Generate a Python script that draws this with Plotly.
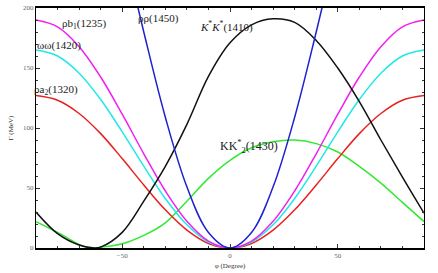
import plotly.graph_objects as go

phi = [-90, -80, -70, -60, -50, -40, -30, -20, -10, 0, 10, 20, 30, 40, 50, 60, 70, 80, 90]

gamma_rho_b1 = [190, 184.3, 167.8, 142.5, 111.5, 78.5, 47.5, 22.2, 5.7, 0, 5.7, 22.2, 47.5, 78.5, 111.5, 142.5, 167.8, 184.3, 190]
gamma_omega_omega = [165, 160, 145.7, 123.8, 96.8, 68.2, 41.3, 19.3, 5, 0, 5, 19.3, 41.3, 68.2, 96.8, 123.8, 145.7, 160, 165]
gamma_rho_a2 = [127, 123.1, 112.1, 95.3, 74.5, 52.5, 31.8, 14.9, 3.8, 0, 3.8, 14.9, 31.8, 52.5, 74.5, 95.3, 112.1, 123.1, 127]
gamma_rho_rho = [435, 422, 384, 326, 255, 180, 109, 51, 13, 0, 13, 51, 109, 180, 255, 326, 384, 422, 435]

phi_kstar = [-90, -80, -70, -63, -60, -50, -40, -30, -20, -10, 0, 10, 20, 30, 40, 50, 60, 70, 80, 90]
gamma_kstar = [30, 12, 2.5, 0, 0.7, 13, 39, 68, 103, 143, 171, 186, 191, 188, 173, 150, 122, 90, 59, 29]

phi_kk2 = [-90, -80, -70, -65, -60, -50, -40, -30, -20, -10, 0, 10, 20, 30, 40, 50, 60, 70, 80, 90]
gamma_kk2 = [22, 13, 3, 0, 0.6, 3.5, 10.5, 21, 39, 58, 73, 83.5, 88.5, 90, 87, 80, 68, 54, 38, 22]

x_tickvals = [-50, 0, 50]
x_ticktext = ["\u221250", "0", "50"]
y_tickvals = [0, 50, 100, 150, 200]
y_ticktext = ["0", "50", "100", "150", "200"]

fig = go.Figure()


def add(x, y, color):
    fig.add_trace(go.Scatter(x=x, y=y, mode="lines", line=dict(color=color, width=1.5, shape="spline"),
                             showlegend=False, hoverinfo="skip"))


add(phi_kk2, gamma_kk2, "#33e833")
add(phi, gamma_rho_a2, "#e82020")
add(phi, gamma_omega_omega, "#22e8e8")
add(phi, gamma_rho_b1, "#f020f0")
add(phi_kstar, gamma_kstar, "#111111")
add(phi, gamma_rho_rho, "#2020d0")

serif = "Liberation Serif"
ann = [
    (-79, 187, "\u03c1b<sub>1</sub>(1235)", 11, 0),
    (-89.9, 169, "\u03c9\u03c9(1420)", 11, -1),
    (-89.9, 132, "\u03c1a<sub>2</sub>(1320)", 11, -4),
    (-43.5, 191, "\u03c1\u03c1(1450)", 11, 0),
    (-14.5, 185, "<i>K</i><sup>*</sup><i>K</i><sup>*</sup>(1410)", 11, -1),
    (-5.8, 85, "KK<sup>*</sup><sub>2</sub>(1430)", 12, 0),
]
for x, y, t, s, dx in ann:
    fig.add_annotation(x=x, y=y, text=t, showarrow=False, xanchor="left", yanchor="middle", xshift=dx,
                       font=dict(family=serif, size=s, color="#222222"))

fig.update_layout(
    width=438, height=273,
    margin=dict(l=36, r=14, t=8, b=25),
    paper_bgcolor="white", plot_bgcolor="white",
    font=dict(family=serif, size=7, color="#555555"),
)
fig.update_xaxes(range=[-90, 90], tickvals=x_tickvals, ticktext=x_ticktext, ticks="inside", ticklen=4,
                 tickcolor="#333333", showgrid=False, zeroline=False, showline=True, linecolor="black",
                 linewidth=1.5, mirror="ticks", automargin=False,
                 minor=dict(dtick=10, tick0=0, ticks="inside", ticklen=2, tickcolor="#333333"),
                 title=dict(text="\u03c6 (Degree)", font=dict(size=7, color="#333333"), standoff=4),
                 tickfont=dict(size=7, color="#666666"))
fig.update_yaxes(range=[0, 200], tickvals=y_tickvals, ticktext=y_ticktext, ticks="inside", ticklen=4,
                 tickcolor="#333333", showgrid=False, zeroline=False, showline=True, linecolor="black",
                 linewidth=1.2, mirror="ticks", automargin=False,
                 minor=dict(dtick=10, tick0=0, ticks="inside", ticklen=2, tickcolor="#333333"),
                 title=dict(text="\u0393 (MeV)", font=dict(size=7, color="#333333"), standoff=8),
                 tickfont=dict(size=7, color="#666666"))

fig.write_html("out.html", config={"displayModeBar": False},
               post_script="document.body.style.margin='0';document.body.style.overflow='hidden';")
